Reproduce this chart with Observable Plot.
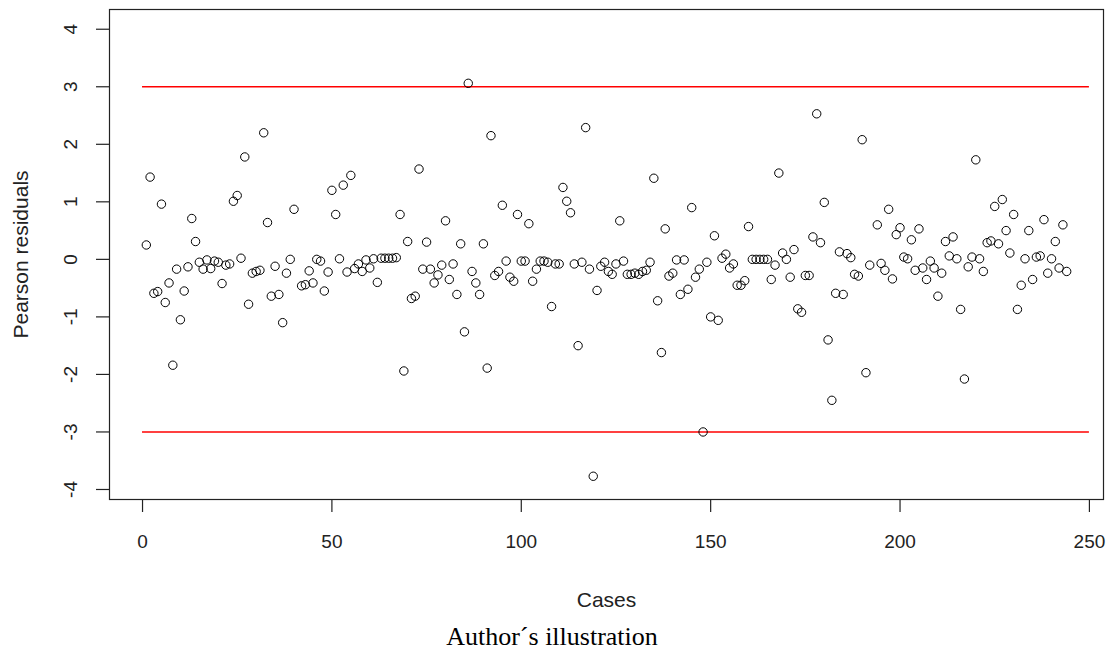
<!DOCTYPE html>
<html>
<head>
<meta charset="utf-8">
<script src="https://cdn.jsdelivr.net/npm/d3@7"></script>
<script src="https://cdn.jsdelivr.net/npm/@observablehq/plot@0.6"></script>
<style>
  html, body { margin: 0; padding: 0; background: #fff; }
  #chart svg { display: block; }
  #caption { width: 1104px; text-align: center; font-family: "Liberation Serif", "Times New Roman", serif; font-size: 26px; color: #000; line-height: 30px; margin-top: 0px; }
</style>
</head>
<body>
<div id="chart"></div>
<div id="caption">Author´s illustration</div>
<script>
const cases = [...d3.range(1, 41), ...d3.range(42, 193), ...d3.range(194, 245)];
const residuals = [
  0.25, 1.43, -0.59, -0.56, 0.96, -0.75, -0.41, -1.84, -0.17, -1.05,
  -0.55, -0.13, 0.71, 0.31, -0.05, -0.17, -0.01, -0.16, -0.03, -0.05,
  -0.42, -0.10, -0.08, 1.01, 1.11, 0.02, 1.78, -0.78, -0.24, -0.21,
  -0.19, 2.20, 0.64, -0.64, -0.12, -0.61, -1.10, -0.24, 0.00, 0.87,
  -0.46, -0.44, -0.20, -0.41, 0.00, -0.03, -0.55, -0.22, 1.20, 0.78,
  0.01, 1.29, -0.22, 1.46, -0.16, -0.08, -0.21, -0.01, -0.15, 0.01,
  -0.40, 0.02, 0.02, 0.02, 0.02, 0.03, 0.78, -1.94, 0.31, -0.68,
  -0.64, 1.57, -0.17, 0.30, -0.17, -0.41, -0.27, -0.10, 0.67, -0.35,
  -0.08, -0.61, 0.27, -1.26, 3.06, -0.21, -0.41, -0.61, 0.27, -1.89,
  2.15, -0.28, -0.21, 0.94, -0.03, -0.31, -0.38, 0.78, -0.03, -0.03,
  0.62, -0.38, -0.17, -0.03, -0.03, -0.05, -0.82, -0.08, -0.08, 1.25,
  1.01, 0.81, -0.08, -1.50, -0.05, 2.29, -0.17, -3.77, -0.54, -0.12,
  -0.05, -0.21, -0.26, -0.08, 0.67, -0.03, -0.26, -0.26, -0.24, -0.26,
  -0.21, -0.19, -0.05, 1.41, -0.72, -1.62, 0.53, -0.29, -0.24, -0.01,
  -0.61, -0.01, -0.52, 0.90, -0.31, -0.17, -3.00, -0.05, -1.00, 0.41,
  -1.06, 0.02, 0.09, -0.15, -0.08, -0.45, -0.45, -0.37, 0.57, 0.00,
  0.00, 0.00, 0.00, 0.00, -0.35, -0.10, 1.50, 0.11, 0.00, -0.31,
  0.17, -0.86, -0.92, -0.28, -0.28, 0.39, 2.53, 0.29, 0.99, -1.40,
  -2.45, -0.59, 0.13, -0.61, 0.10, 0.03, -0.26, -0.29, 2.08, -1.97,
  -0.10, 0.60, -0.07, -0.19, 0.87, -0.34, 0.43, 0.55, 0.04, 0.01,
  0.34, -0.19, 0.53, -0.15, -0.35, -0.03, -0.15, -0.64, -0.24, 0.31,
  0.06, 0.39, 0.01, -0.87, -2.08, -0.13, 0.04, 1.73, 0.01, -0.21,
  0.29, 0.32, 0.92, 0.27, 1.04, 0.50, 0.11, 0.78, -0.87, -0.45,
  0.01, 0.50, -0.35, 0.04, 0.06, 0.69, -0.24, 0.01, 0.31, -0.15,
  0.60, -0.21
];
const xTicks = [0, 50, 100, 150, 200, 250];
const yTicks = [-4, -3, -2, -1, 0, 1, 2, 3, 4];
const cutoffs = [3, -3];
const xLabel = "Cases";
const yLabel = "Pearson residuals";

const data = cases.map((c, i) => ({case: c, residual: residuals[i]}));
const font = "'Liberation Sans', Arial, sans-serif";

const chart = Plot.plot({
  width: 1114,
  height: 622,
  marginLeft: 109,
  marginRight: 11,
  marginTop: 9,
  marginBottom: 123,
  style: {fontFamily: font, fontSize: "19px", color: "#222", background: "#fff"},
  x: {domain: [-8.72, 253.72]},
  y: {domain: [-4.174, 4.343]},
  marks: [
    Plot.ruleY(cutoffs, {x1: 0, x2: 250, stroke: "#ff0000", strokeWidth: 1.5}),
    Plot.dot(data, {x: "case", y: "residual", r: 4.2, stroke: "#000", strokeWidth: 1, fill: "none"}),
    Plot.frame({stroke: "#222", strokeWidth: 1.2}),
    Plot.axisX({ticks: xTicks, tickSize: 13, tickPadding: 22, stroke: "#222", strokeWidth: 1.2, fontSize: 19, label: null, tickFormat: d => String(d)}),
    Plot.axisY({ticks: yTicks, tickSize: 13, tickFormat: () => "", stroke: "#222", strokeWidth: 1.2, label: null}),
    Plot.text(yTicks, {y: d => d, frameAnchor: "left", dx: -39, rotate: -90, textAnchor: "middle", lineAnchor: "middle", text: d => String(d), fontSize: 19, fill: "#222"}),
    Plot.text([xLabel], {frameAnchor: "bottom", dy: 101, textAnchor: "middle", lineAnchor: "middle", text: d => d, fontSize: 21, fill: "#222"}),
    Plot.text([yLabel], {frameAnchor: "left", dx: -88, rotate: -90, textAnchor: "middle", lineAnchor: "middle", text: d => d, fontSize: 21, fill: "#222"})
  ]
});
document.getElementById("chart").appendChild(chart);
</script>
</body>
</html>
